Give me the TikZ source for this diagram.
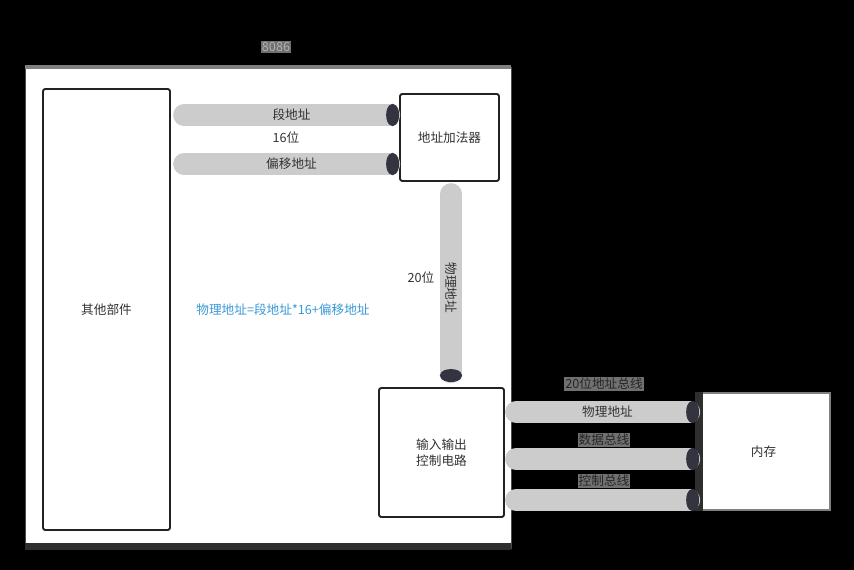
\documentclass[tikz,border=0pt]{standalone}
\usepackage{fontspec}
\setmainfont{Noto Sans CJK SC}
\usepackage{tikz}
\usetikzlibrary{arrows.meta, positioning, calc}

\definecolor{busgray}{HTML}{CCCCCC}
\definecolor{tipdark}{HTML}{33343F}
\definecolor{boxline}{HTML}{222222}
\definecolor{formulablue}{HTML}{3A9AD9}
\definecolor{tagbg}{HTML}{707070}

\tikzset{
    unit/.style={draw=boxline, line width=1.6pt, fill=white, rounded corners=2pt,
        inner sep=0pt, align=center, font=\fontsize{10.8}{13.5}\selectfont, text=black!80},
    bus/.style={busgray, line width=18.5pt, line cap=round,
        -{Ellipse[length=11pt, width=18.5pt, color=tipdark]}},
    buslabel/.style={font=\fontsize{10.8}{13}\selectfont, text=black!80},
    tag/.style={fill=tagbg, inner sep=1pt, font=\fontsize{10.8}{13}\selectfont, text=black!85}
}

\begin{document}
\begin{tikzpicture}[x=0.03cm, y=-0.03cm]
    % background and margins
    \fill[black] (0,0) rectangle (854,570);
    \useasboundingbox (0,0) rectangle (854,570);

    % 8086 container
    \fill[white] (25,67) rectangle (511,549);
    \draw[black!70, line width=0.8pt] (25,67) -- (25,549);
    \draw[black!70, line width=0.8pt] (511,67) -- (511,549);
    \draw[gray, line width=3pt] (25,67) -- (511,67);
    \fill[black!82] (25,543) rectangle (511,550);
    \node[tag, text=black!30] (cpulabel) at (276,47) {8086};

    % units
    \node[unit, minimum width=3.81cm, minimum height=13.23cm] (other) at (106.5,309.5) {其他部件};
    \node[unit, minimum width=2.97cm, minimum height=2.61cm] (adder) at (449.5,137.5) {地址加法器};
    \node[unit, minimum width=3.75cm, minimum height=3.87cm] (io) at (441.5,452.5) {输入输出\\控制电路};
    \node[draw=gray, line width=1.6pt, fill=white, inner sep=0pt,
        minimum width=3.99cm, minimum height=3.51cm, font=\fontsize{10.8}{13}\selectfont,
        text=black!80] (mem) at (763.5,451.5) {内存};
    \fill[black!82] (mem.north west) ++(-1,0) rectangle ($(mem.south west)+(7,0)$);

    % bus end points
    \coordinate (segA) at (184,115);
    \coordinate (offA) at (184,164);
    \coordinate (physA) at (451,194);
    \coordinate (physB) at (451,382);
    \coordinate (ioA) at (516,412);
    \coordinate (ioD) at (516,459);
    \coordinate (ioC) at (516,500);

    % buses inside the cpu
    \draw[bus] (segA) -- (adder.west |- segA) node[midway, buslabel] (seg) {段地址};
    \draw[bus] (offA) -- (adder.west |- offA) node[midway, buslabel] (off) {偏移地址};
    \node[buslabel] (w16) at (286,138) {16位};
    \draw[bus] (physA) -- (physB) node[midway, buslabel, rotate=-90] (phys) {物理地址};
    \node[buslabel] (w20) at (421,278) {20位};
    \node[font=\fontsize{10.8}{13}\selectfont, text=formulablue] (formula) at (283,310)
        {物理地址=段地址*16+偏移地址};

    % system buses
    \draw[bus] (ioA) -- ($(mem.west |- ioA)+(3,0)$) node[midway, buslabel] (addrbus) {物理地址};
    \draw[bus] (ioD) -- ($(mem.west |- ioD)+(3,0)$);
    \draw[bus] (ioC) -- ($(mem.west |- ioC)+(3,0)$);
    \node[tag] (addrtag) at (604,384) {20位地址总线};
    \node[tag] (datatag) at (604,440) {数据总线};
    \node[tag] (ctrltag) at (604,481) {控制总线};
\end{tikzpicture}
\end{document}
